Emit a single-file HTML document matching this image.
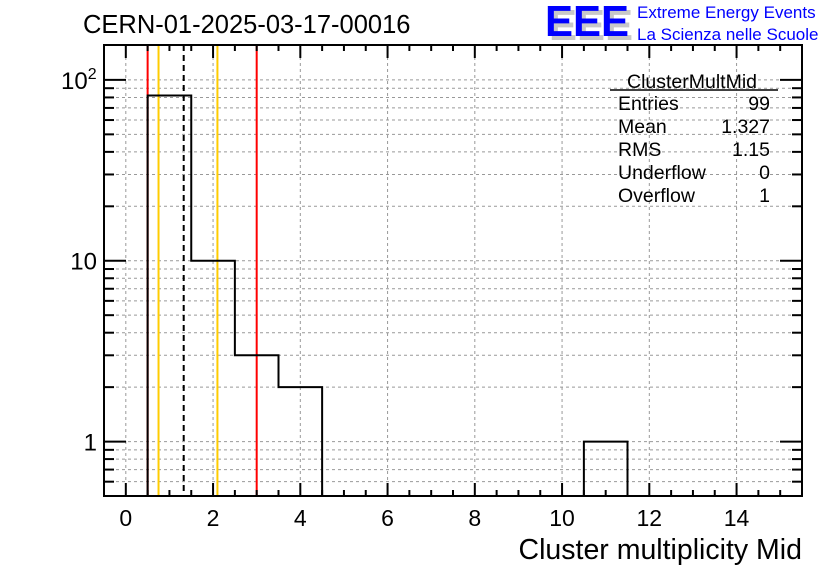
<!DOCTYPE html>
<html><head><meta charset="utf-8"><style>
body{margin:0;background:#fff;}
svg{display:block;font-family:"Liberation Sans",sans-serif;}
</style></head><body>
<svg id="c" width="836" height="572">
<text x="83" y="33" font-size="25.5">CERN-01-2025-03-17-00016</text>
<g>
<text x="549" y="40" font-size="44" font-weight="bold" fill="#c8c8c8" textLength="84" lengthAdjust="spacingAndGlyphs">EEE</text>
<text x="545" y="36" font-size="44" font-weight="bold" fill="#0000ff" textLength="84" lengthAdjust="spacingAndGlyphs">EEE</text>
<text x="637" y="18" font-size="17" fill="#0000ff">Extreme Energy Events</text>
<text x="637" y="40" font-size="17" fill="#0000ff">La Scienza nelle Scuole</text>
</g>
<g id="grid"></g><g id="marks"></g><g id="axes"></g>
<g font-size="19.5">
<text x="692" y="88" text-anchor="middle">ClusterMultMid</text>
<line x1="610" y1="90" x2="778" y2="90" stroke="#000" stroke-width="1.5"/>
<text x="618" y="110">Entries</text><text x="770" y="110" text-anchor="end">99</text>
<text x="618" y="133">Mean</text><text x="770" y="133" text-anchor="end">1.327</text>
<text x="618" y="156">RMS</text><text x="770" y="156" text-anchor="end">1.15</text>
<text x="618" y="179">Underflow</text><text x="770" y="179" text-anchor="end">0</text>
<text x="618" y="202">Overflow</text><text x="770" y="202" text-anchor="end">1</text>
</g>
<text x="802" y="559" font-size="28.5" text-anchor="end">Cluster multiplicity Mid</text>
</svg>
<script>
const binLow=[0.5,1.5,2.5,3.5,10.5];
const binCounts=[82,10,3,2,1];
const binWidth=1;
const xTicks=[0,2,4,6,8,10,12,14];
const yDecades=[1,10,100];
const yTickLabels=["1","10","10²"];
const redLines=[0.5,3.0];
const yellowLines=[0.75,2.1];
const meanLine=[1.327];
const L=104,R=802,T=45,B=496,xmin=-0.5,xmax=15.5,ymin=0.5,ymax=156;
const X=v=>L+(v-xmin)/(xmax-xmin)*(R-L);
const Y=v=>B-(Math.log10(v)-Math.log10(ymin))/(Math.log10(ymax)-Math.log10(ymin))*(B-T);
const NS="http://www.w3.org/2000/svg";
function mk(p,t,a){const e=document.createElementNS(NS,t);for(const k in a)e.setAttribute(k,a[k]);p.appendChild(e);return e;}
const grid=document.getElementById('grid'),marks=document.getElementById('marks'),axes=document.getElementById('axes');
for(const v of xTicks){const g=mk(grid,'line',{x1:X(v),x2:X(v),y1:T,y2:B,stroke:'#999','stroke-dasharray':'3,3','stroke-width':1});

}
const minorY=[];for(let d=0.1;d<=100;d*=10)for(let m=1;m<10;m++){const v=d*m;if(v>=ymin&&v<=ymax)minorY.push(v);}
for(const v of minorY){const g=mk(grid,'line',{x1:L,x2:R,y1:Y(v),y2:Y(v),stroke:'#999','stroke-dasharray':'3,3','stroke-width':1});

}
for(const v of redLines){const l=mk(marks,'line',{x1:X(v),x2:X(v),y1:T,y2:B,stroke:'#ff0000','stroke-width':2});

}
for(const v of yellowLines){const l=mk(marks,'line',{x1:X(v),x2:X(v),y1:T,y2:B,stroke:'#ffcc00','stroke-width':2});

}
for(const v of meanLine){const l=mk(marks,'line',{x1:X(v),x2:X(v),y1:T,y2:B,stroke:'#000','stroke-width':2,'stroke-dasharray':'6,4'});

}
let d='';
for(let i=0;i<4;i++){const x0=X(binLow[i]),x1=X(binLow[i]+binWidth),y=Y(binCounts[i]);
if(i==0)d+=`M${x0},${B}`;d+=`L${x0},${y}L${x1},${y}`;}
d+=`L${X(binLow[3]+binWidth)},${B}`;
const h=mk(marks,'path',{d:d,fill:'none',stroke:'#000','stroke-width':2});


const x0=X(binLow[4]),x1=X(binLow[4]+binWidth),y4=Y(binCounts[4]);
const b=mk(marks,'path',{d:`M${x0},${B}L${x0},${y4}L${x1},${y4}L${x1},${B}`,fill:'none',stroke:'#000','stroke-width':2});


const f=mk(axes,'rect',{x:L,y:T,width:R-L,height:B-T,fill:'none',stroke:'#000','stroke-width':2});


for(let v=xmin;v<=xmax+1e-9;v+=0.5){const maj=xTicks.includes(v);const len=maj?13:6;
mk(axes,'line',{x1:X(v),x2:X(v),y1:B,y2:B-len,stroke:'#000','stroke-width':2});
mk(axes,'line',{x1:X(v),x2:X(v),y1:T,y2:T+len,stroke:'#000','stroke-width':2});}
xTicks.forEach(v=>{const t=mk(axes,'text',{x:X(v),y:526,'font-size':23,'text-anchor':'middle'});t.textContent=v;

});
for(const v of minorY){const maj=[1,10,100].some(q=>Math.abs(q-v)<1e-6);const len=maj?22:10;
mk(axes,'line',{x1:L,x2:L+len,y1:Y(v),y2:Y(v),stroke:'#000','stroke-width':2});
mk(axes,'line',{x1:R,x2:R-len,y1:Y(v),y2:Y(v),stroke:'#000','stroke-width':2});}
yDecades.forEach((v,i)=>{let t;
if(i==2){t=mk(axes,'text',{x:61,y:Y(v)+9,'font-size':24});t.textContent='10';const s=mk(t,'tspan',{dy:-10,'font-size':16});s.textContent='2';}
else{t=mk(axes,'text',{x:97,y:Y(v)+9,'font-size':24,'text-anchor':'end'});t.textContent=yTickLabels[i];}

});
</script>
</body></html>
